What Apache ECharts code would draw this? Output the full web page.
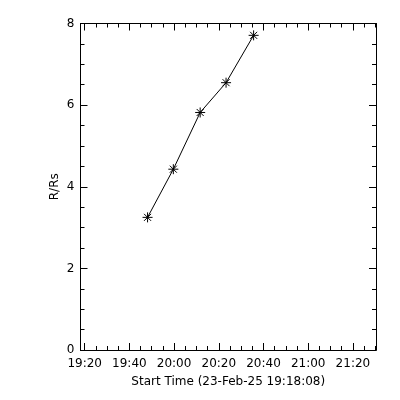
<!DOCTYPE html>
<html>
<head>
<meta charset="utf-8">
<script src="https://cdn.jsdelivr.net/npm/echarts@6/dist/echarts.min.js"></script>
<style>html,body{margin:0;padding:0;background:#fff}#c{width:400px;height:400px}</style>
</head>
<body>
<div id="c"></div>
<script>
// Data
const times = ['19:48:08', '19:59:40', '20:11:40', '20:23:15', '20:35:35'];
const heights = [3.25, 4.43, 5.82, 6.55, 7.71];
const xTickLabels = ['19:20', '19:40', '20:00', '20:20', '20:40', '21:00', '21:20'];
const yTickValues = [0, 2, 4, 6, 8];
const startTime = '19:18:08';
const endTime = '21:30:20';
const xTitle = 'Start Time (23-Feb-25 19:18:08)';
const yTitle = 'R/Rs';

function toMin(s) {
  const p = s.split(':').map(Number);
  return p[0] * 60 + p[1] + (p[2] || 0) / 60;
}
function fmt(v) {
  const h = Math.floor(v / 60), m = Math.round(v - h * 60);
  return String(h).padStart(2, '0') + ':' + String(m).padStart(2, '0');
}
const xMin = toMin(startTime), xMax = toMin(endTime);
const majorX = xTickLabels.map(toMin);
const minorX = [];
for (let v = majorX[0]; v <= xMax; v += 5) minorX.push(v);

const font = 'DejaVu Sans';
const black = '#000';
const star = 'path://M5,0L5,10M0,5L10,5M1.5,1.5L8.5,8.5M1.5,8.5L8.5,1.5';

function xAx(pos, major, labels, tickLen, vals) {
  return {
    type: 'value', position: pos, min: xMin, max: xMax,
    axisLine: { show: true, onZero: false, lineStyle: { color: black, width: 1 } },
    axisTick: { show: true, inside: true, length: tickLen, customValues: vals, lineStyle: { color: black } },
    axisLabel: labels ? { show: true, customValues: majorX, formatter: fmt, color: black, fontFamily: font, fontSize: 12, margin: 8 } : { show: false },
    splitLine: { show: false },
    name: labels ? xTitle : '', nameLocation: 'middle', nameGap: 26,
    nameTextStyle: { color: black, fontFamily: font, fontSize: 12 }
  };
}

const option = {
  animation: false,
  backgroundColor: '#fff',
  grid: { left: 80.5, top: 23.5, right: 24, bottom: 50 },
  xAxis: [
    xAx('bottom', true, true, 7, majorX),
    xAx('bottom', false, false, 4, minorX),
    xAx('top', true, false, 7, majorX),
    xAx('top', false, false, 4, minorX)
  ],
  yAxis: [0, 1].map(i => ({
    type: 'value', position: i === 0 ? 'left' : 'right', min: 0, max: 8, interval: 2,
    axisLine: { show: true, onZero: false, lineStyle: { color: black, width: 1 } },
    axisTick: { show: true, inside: true, length: 7, lineStyle: { color: black } },
    minorTick: { show: true, splitNumber: 4, length: 4, lineStyle: { color: black } },
    axisLabel: i === 0 ? { show: true, color: black, fontFamily: font, fontSize: 12, margin: 6,
      customValues: yTickValues } : { show: false },
    splitLine: { show: false },
    name: i === 0 ? yTitle : '', nameLocation: 'middle', nameGap: 20, nameRotate: 90,
    nameMoveOverlap: false,
    nameTextStyle: { color: black, fontFamily: font, fontSize: 12 }
  })),
  series: [{
    type: 'line',
    xAxisIndex: 0, yAxisIndex: 0,
    data: times.map((t, i) => [toMin(t), heights[i]]),
    lineStyle: { color: black, width: 1 },
    symbol: star, symbolSize: 10,
    itemStyle: { color: black, borderColor: black, borderWidth: 1 },
    emphasis: { disabled: true }
  }]
};
echarts.init(document.getElementById('c'), null, { renderer: 'canvas' }).setOption(option);
</script>
</body>
</html>
